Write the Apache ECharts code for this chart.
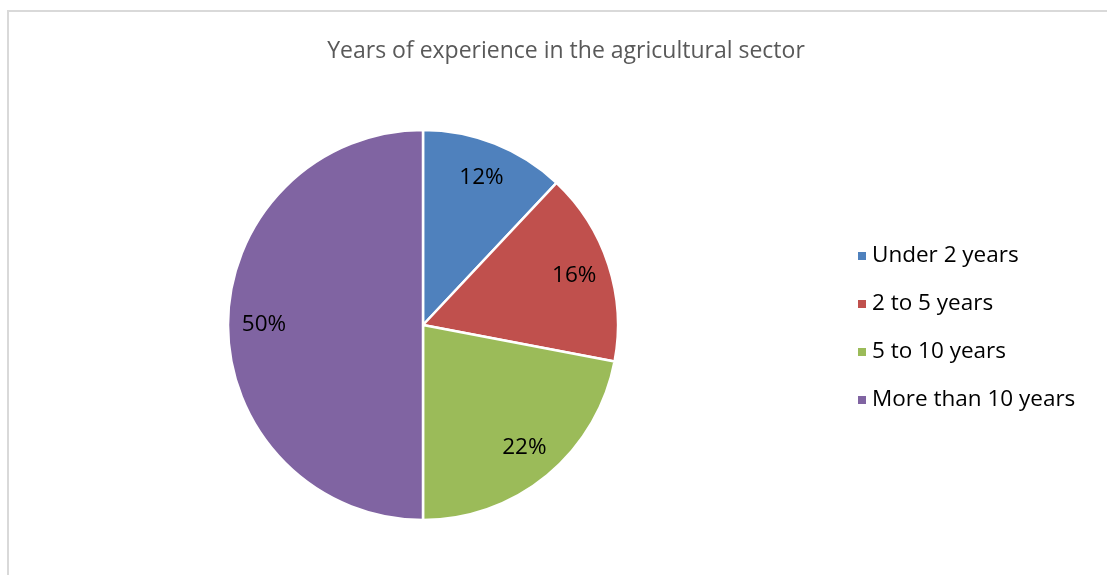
<!DOCTYPE html>
<html>
<head>
<meta charset="utf-8">
<script src="https://cdn.jsdelivr.net/npm/echarts@6/dist/echarts.min.js"></script>
<style>
  html, body { margin: 0; padding: 0; background: #fff; }
  #chart { width: 1107px; height: 575px; }
  #frame {
    position: absolute; left: 7px; top: 10px; width: 1200px; height: 700px;
    border-left: 2px solid #d9d9d9; border-top: 2px solid #d9d9d9;
    pointer-events: none;
  }
</style>
</head>
<body>
<div id="chart"></div>
<div id="frame"></div>
<script>
// 数据
const categories = ['Under 2 years', '2 to 5 years', '5 to 10 years', 'More than 10 years'];
const values = [12, 16, 22, 50];
const colors = ['#4F81BD', '#C0504D', '#9BBB59', '#8064A2'];

const FONT = '"Open Sans", "Liberation Sans", sans-serif';

const chart = echarts.init(document.getElementById('chart'));

const pieData = categories.map((name, i) => ({
    name: name,
    value: values[i],
    itemStyle: { color: colors[i] }
}));

// 标签环：透明，只用来把百分比放在靠外的位置
const labelData = categories.map((name, i) => ({ name: name, value: values[i] }));

const option = {
    animation: false,
    title: {
        text: 'Years of experience in the agricultural sector',
        left: 561,
        textAlign: 'center',
        top: 35,
        textStyle: { fontFamily: FONT, fontSize: 23, fontWeight: 'normal', color: '#595959' }
    },
    legend: {
        orient: 'vertical',
        left: 851,
        top: 237,
        data: categories,
        icon: 'rect',
        itemWidth: 10,
        itemHeight: 10,
        itemGap: 20,
        textStyle: { fontFamily: FONT, fontSize: 22.5, color: '#000', lineHeight: 28 }
    },
    series: [
        {
            type: 'pie',
            center: [423, 325],
            radius: [0, 195],
            startAngle: 90,
            clockwise: true,
            label: { show: false },
            labelLine: { show: false },
            itemStyle: { borderColor: '#fff', borderWidth: 2.5 },
            data: pieData
        },
        {
            type: 'pie',
            center: [423, 325],
            radius: [117, 195],
            startAngle: 90,
            clockwise: true,
            silent: true,
            legendHoverLink: false,
            itemStyle: { color: 'rgba(0,0,0,0)' },
            label: {
                show: true,
                position: 'inside',
                formatter: p => p.value + '%',
                fontFamily: FONT,
                fontSize: 22.5,
                color: '#000'
            },
            labelLine: { show: false },
            data: labelData
        }
    ]
};

chart.setOption(option);
</script>
</body>
</html>
